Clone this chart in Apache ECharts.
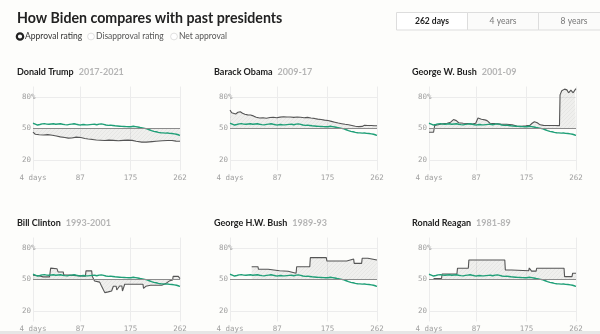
<!DOCTYPE html>
<html>
<head>
<meta charset="utf-8">
<script src="https://cdn.jsdelivr.net/npm/echarts@6/dist/echarts.min.js"></script>
<style>
  html, body { margin: 0; padding: 0; background: #fdfdfb; }
  #chart { width: 600px; height: 334px; }
</style>
</head>
<body>
<div id="chart"></div>
<script>
// Approval ratings as [days in office, approval %]
const dayTicks = [4, 87, 175, 262];
const pctTicks = [20, 50, 80];

const bidenApproval = [
  [4,55.0],[8,54.2],[12,53.3],[16,53.8],[20,54.4],[24,54.6],[28,54.2],[32,54.0],[36,54.3],[40,54.5],
  [44,54.1],[48,54.3],[52,54.5],[56,54.0],[60,53.7],[64,53.5],[68,53.9],[72,54.2],[76,54.5],[80,54.0],
  [84,53.6],[88,53.4],[92,53.8],[96,53.6],[100,53.5],[104,53.7],[108,53.9],[112,54.0],[116,53.6],[120,54.2],
  [124,54.4],[128,53.9],[132,53.3],[136,53.0],[140,53.2],[144,52.9],[148,52.6],[152,52.4],[156,52.2],[160,52.0],
  [164,51.9],[168,51.8],[172,51.6],[176,51.7],[180,52.1],[184,51.8],[188,51.4],[192,50.9],[196,50.6],[200,50.1],
  [204,49.6],[208,48.8],[212,48.0],[216,47.3],[220,46.9],[224,46.3],[228,46.0],[232,45.8],[236,45.6],[240,45.7],
  [244,45.4],[248,45.2],[252,44.9],[256,44.5],[260,43.8],[262,43.5]
];

const trumpApproval = [
  [4,46.5],[8,44.5],[15,44.0],[22,43.8],[30,44.2],[38,43.5],[45,42.8],[52,42.0],[60,41.5],[66,40.8],
  [72,41.0],[80,41.8],[88,41.5],[95,40.5],[101,40.0],[108,39.6],[115,39.0],[122,38.8],[130,38.6],[137,38.9],
  [145,38.7],[154,38.3],[162,38.7],[170,38.9],[178,38.7],[185,37.8],[195,37.0],[203,37.0],[213,37.5],[220,37.8],
  [231,38.3],[240,38.6],[248,38.5],[255,38.0],[262,37.8]
];

const obamaApproval = [
  [4,67.5],[7,65.0],[10,63.5],[14,63.8],[18,65.5],[22,66.0],[26,64.5],[30,63.6],[35,63.0],[40,62.8],
  [45,62.0],[50,60.8],[56,60.0],[62,60.2],[68,59.8],[74,60.5],[80,60.7],[86,60.2],[92,60.8],[98,61.2],
  [104,60.9],[110,61.0],[116,60.6],[122,60.9],[128,60.7],[134,60.3],[140,60.6],[146,60.0],[152,59.6],[158,58.9],
  [164,58.5],[170,58.0],[176,57.6],[182,56.8],[188,56.0],[194,55.2],[200,54.6],[206,54.0],[212,53.5],[218,52.9],
  [224,52.2],[230,51.8],[236,52.0],[240,53.0],[246,52.8],[252,52.9],[258,52.6],[262,52.6]
];

const bushWApproval = [
  [4,46.4],[12,46.4],[14,53.0],[20,53.5],[28,54.5],[36,55.0],[42,56.0],[47,58.5],[52,57.5],[56,55.5],
  [64,55.0],[72,54.7],[80,54.2],[86,55.0],[90,60.0],[96,58.8],[102,58.2],[106,57.5],[111,55.0],[120,54.6],
  [130,54.2],[140,54.0],[150,53.5],[158,52.3],[166,52.0],[174,52.5],[181,53.0],[185,55.0],[189,56.5],[194,55.5],
  [199,53.5],[205,53.0],[215,52.8],[225,52.8],[233,52.7],[234,82.0],[237,86.0],[242,87.5],[246,86.8],[249,84.0],
  [253,86.5],[257,84.0],[260,86.5],[262,88.0]
];

const clintonApproval = [
  [4,54.0],[14,53.5],[22,52.5],[33,52.5],[35,60.8],[46,60.3],[48,57.2],[57,57.2],[58,54.5],[68,54.2],
  [70,53.2],[96,53.2],[97,58.2],[107,58.2],[108,53.0],[112,48.5],[121,47.5],[124,44.0],[130,37.5],[136,38.2],
  [142,39.0],[145,43.6],[150,43.6],[151,40.0],[156,43.8],[160,43.8],[161,39.0],[165,45.5],[197,45.5],[198,41.5],
  [202,43.5],[210,44.5],[230,44.5],[238,46.5],[243,48.5],[249,49.5],[250,53.0],[259,53.0],[262,50.8]
];

const bushHWApproval = [
  [42,62.2],[53,62.2],[54,59.7],[71,59.7],[72,58.6],[91,58.4],[92,57.8],[106,57.8],[108,55.9],[120,55.9],
  [121,62.2],[144,62.2],[145,70.8],[173,70.8],[174,67.6],[209,67.6],[210,69.5],[221,69.5],[222,65.4],[235,65.4],
  [236,70.2],[246,70.2],[247,68.6],[262,68.6]
];

const reaganApproval = [
  [12,51.0],[26,51.0],[27,55.2],[53,55.2],[54,60.7],[73,60.7],[74,68.6],[137,68.6],[138,59.0],[149,59.0],
  [150,58.4],[179,58.4],[180,61.0],[183,61.0],[184,58.0],[192,58.0],[193,60.7],[241,60.7],[242,52.7],[255,52.7],
  [256,55.9],[262,55.9]
];

const presidents = [
  { name: 'Donald Trump', years: '2017-2021', data: trumpApproval },
  { name: 'Barack Obama', years: '2009-17', data: obamaApproval },
  { name: 'George W. Bush', years: '2001-09', data: bushWApproval },
  { name: 'Bill Clinton', years: '1993-2001', data: clintonApproval },
  { name: 'George H.W. Bush', years: '1989-93', data: bushHWApproval },
  { name: 'Ronald Reagan', years: '1981-89', data: reaganApproval }
];

const rangeButtons = ['262 days', '4 years', '8 years'];
const ratingOptions = ['Approval rating', 'Disapproval rating', 'Net approval'];

// Hatched fill between a president's line and the 50% line
function hatchPattern() {
  const c = document.createElement('canvas');
  c.width = 4; c.height = 4;
  const ctx = c.getContext('2d');
  ctx.fillStyle = 'rgba(0,0,0,0.055)';
  ctx.fillRect(0, 0, 4, 4);
  ctx.strokeStyle = 'rgba(0,0,0,0.07)';
  ctx.lineWidth = 0.6;
  ctx.beginPath();
  ctx.moveTo(0, 4); ctx.lineTo(4, 0);
  ctx.stroke();
  return c;
}
const hatch = hatchPattern();

const GREEN = '#1f9f77';
const colLeft = [33, 230, 429];
const rowTop = [86.5, 237.5];
const plotW = 147, plotH = 84;
const titleY = [63, 214];
const titleX = [17, 214, 412];
const monoFont = '"DejaVu Sans Mono", monospace';
const sansFont = 'Lato, "Noto Sans", sans-serif';

const grids = [], xAxes = [], yAxes = [], series = [], titles = [];

presidents.forEach((p, i) => {
  const col = i % 3, row = Math.floor(i / 3);
  grids.push({ left: colLeft[col], top: rowTop[row], width: plotW, height: plotH });
  xAxes.push({
    type: 'value', gridIndex: i, min: 4, max: 262,
    axisLine: { show: false },
    axisTick: { show: false, customValues: dayTicks },
    axisLabel: {
      customValues: dayTicks, margin: 4,
      color: '#a0a0a0', fontFamily: monoFont, fontSize: 7.5,
      formatter: v => (v === 4 ? '4 days' : String(v))
    },
    splitLine: { show: true, lineStyle: { color: '#ececec', width: 1 } }
  });
  yAxes.push({
    type: 'value', gridIndex: i, min: 10, max: 90,
    axisLine: { show: false },
    axisTick: { show: false, customValues: [20, 80] },
    axisLabel: {
      customValues: pctTicks, margin: 11, align: 'left',
      color: '#a0a0a0', fontFamily: monoFont, fontSize: 7.5,
      formatter: v => (v === 80 ? '80%' : String(v))
    },
    splitLine: { show: true, lineStyle: { color: '#ececec', width: 1 } }
  });
  series.push({
    type: 'line', xAxisIndex: i, yAxisIndex: i, data: p.data,
    showSymbol: false, silent: true, z: 2,
    lineStyle: { color: '#555', width: 1.1 },
    areaStyle: { origin: 50, color: { image: hatch, repeat: 'repeat' }, opacity: 1 },
    markLine: {
      silent: true, symbol: 'none', label: { show: false },
      lineStyle: { color: '#8c8c8c', type: 'solid', width: 1 },
      data: [{ yAxis: 50 }]
    }
  });
  series.push({
    type: 'line', xAxisIndex: i, yAxisIndex: i, data: bidenApproval,
    showSymbol: false, silent: true, z: 3,
    lineStyle: { color: GREEN, width: 1.4 }
  });
  titles.push({
    left: titleX[col], top: titleY[row], padding: 0,
    text: '{n|' + p.name + '} {y|' + p.years + '}',
    textStyle: {
      rich: {
        n: { fontFamily: sansFont, fontWeight: 'bold', fontSize: 9, color: '#222' },
        y: { fontFamily: sansFont, fontSize: 9, color: '#b5b5b5' }
      }
    }
  });
});

titles.push({
  left: 17, top: 11, padding: 0, text: 'How Biden compares with past presidents',
  textStyle: { fontFamily: sansFont, fontWeight: 'bold', fontSize: 14.2, color: '#222' }
});

// Radio options and range buttons
const graphics = [];
const radioX = [20, 91, 174];
ratingOptions.forEach((t, k) => {
  const sel = k === 0;
  graphics.push({
    type: 'circle', shape: { cx: radioX[k], cy: 36.5, r: sel ? 3.2 : 3.4 },
    style: sel ? { fill: '#fff', stroke: '#222', lineWidth: 2.2 } : { fill: '#fff', stroke: '#d8d8d8', lineWidth: 0.8 }
  });
  graphics.push({
    type: 'text', x: radioX[k] + 5, y: 36.5,
    style: { text: t, fontFamily: sansFont, fontSize: 8.5, fill: sel ? '#333' : '#555', verticalAlign: 'middle' }
  });
});
const btnX = [396, 467, 538], btnW = 71;
rangeButtons.forEach((t, k) => {
  graphics.push({
    type: 'rect', shape: { x: btnX[k] + 0.5, y: 12.5, width: btnW, height: 17.5 },
    style: { fill: k === 0 ? '#ffffff' : '#fbfbfa', stroke: '#dddddd', lineWidth: 1 }
  });
  graphics.push({
    type: 'text', x: btnX[k] + btnW / 2 + 0.5, y: 21.5,
    style: {
      text: t, fontFamily: sansFont, fontSize: 8.5, fontWeight: k === 0 ? 'bold' : 'normal',
      fill: k === 0 ? '#222' : '#777', align: 'center', verticalAlign: 'middle'
    }
  });
});
graphics.push({ type: 'rect', shape: { x: 0, y: 331, width: 600, height: 3 }, style: { fill: '#e6e6e6' } });

const chart = echarts.init(document.getElementById('chart'), null, { renderer: 'canvas' });
chart.setOption({
  backgroundColor: '#fdfdfb',
  animation: false,
  title: titles,
  grid: grids,
  xAxis: xAxes,
  yAxis: yAxes,
  series: series,
  graphic: graphics
});
</script>
</body>
</html>
